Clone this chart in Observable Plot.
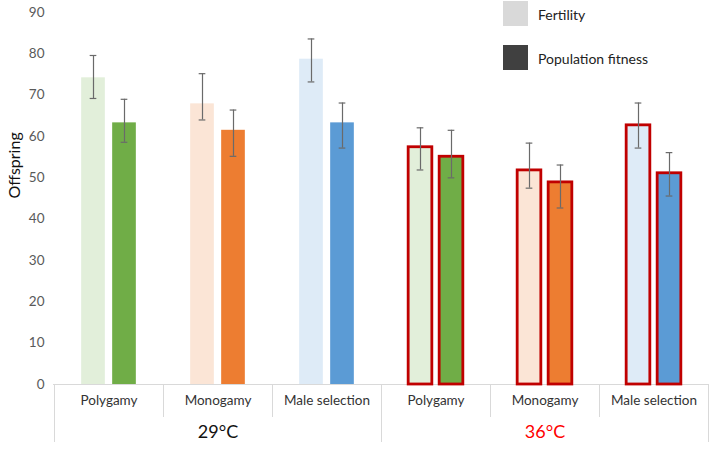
<!DOCTYPE html>
<html>
<head>
<meta charset="utf-8">
<script src="https://cdn.jsdelivr.net/npm/d3@7"></script>
<script src="https://cdn.jsdelivr.net/npm/@observablehq/plot@0.6"></script>
<style>
  body { margin: 0; background: #fff; font-family: Lato, "Open Sans", sans-serif; }
  #wrap { position: relative; width: 709px; height: 450px; }
  .legend { position: absolute; left: 503px; font-size: 14px; color: #222; }
  .legend .sw { position: absolute; left: 0; width: 25px; height: 25px; }
  .legend .lb { position: absolute; left: 35px; white-space: nowrap; line-height: 25px; }
</style>
</head>
<body>
<div id="wrap"></div>
<script>
// ---- data ----
const temps = ["29°C", "36°C"];
const categories = ["Polygamy", "Monogamy", "Male selection"];
const fertility      = [74.2, 67.9, 78.7, 57.4, 51.8, 62.7];
const fertilityLow   = [69.2, 64.0, 73.2, 51.9, 47.5, 57.2];
const fertilityHigh  = [79.6, 75.2, 83.6, 62.1, 58.4, 68.1];
const fitness        = [63.3, 61.5, 63.3, 55.1, 48.9, 51.1];
const fitnessLow     = [58.6, 55.2, 57.2, 50.0, 42.7, 45.6];
const fitnessHigh    = [69.0, 66.4, 68.1, 61.5, 53.1, 56.1];
const lightColors = ["#e2efda", "#fbe5d6", "#deebf7"];
const darkColors  = ["#70ad47", "#ed7d31", "#5b9bd5"];
const yTicks = [0, 10, 20, 30, 40, 50, 60, 70, 80, 90];
const seriesNames = ["Fertility", "Population fitness"];

const rows = [];
temps.forEach((t, ti) => categories.forEach((c, ci) => {
  const i = ti * 3 + ci;
  rows.push({
    key: t + "|" + c, temp: t, cat: c,
    fertility: fertility[i], fLow: fertilityLow[i], fHigh: fertilityHigh[i],
    fitness: fitness[i], pLow: fitnessLow[i], pHigh: fitnessHigh[i],
    light: lightColors[ci], dark: darkColors[ci],
    outline: ti === 1 ? "#c00000" : "none"
  });
}));
const keys = rows.map(d => d.key);

const W = 709, H = 450, ML = 53, MB = 66, MT = 12;
const band = (W - ML) / keys.length;
const barW = 24, off = 15.5, capW = 7;
const barInset = (band - barW) / 2;
const capInset = (band - capW) / 2;
const errColor = "#6a6a6a";

const chart = Plot.plot({
  width: W, height: H,
  marginLeft: ML, marginRight: 0, marginTop: MT, marginBottom: MB,
  style: { fontFamily: "Lato, 'Open Sans', sans-serif", background: "#fff", overflow: "visible" },
  x: { type: "band", domain: keys, padding: 0, axis: null },
  y: { domain: [0, 90], axis: null },
  color: { type: "identity" },
  marks: [
    Plot.ruleY([0], { stroke: "#d9d9d9", strokeWidth: 1 }),
    // Fertility bars
    Plot.barY(rows, {
      x: "key", y: "fertility", fill: "light", stroke: "outline", strokeWidth: 2.8,
      insetLeft: barInset, insetRight: barInset, dx: -off
    }),
    // Population fitness bars
    Plot.barY(rows, {
      x: "key", y: "fitness", fill: "dark", stroke: "outline", strokeWidth: 2.8,
      insetLeft: barInset, insetRight: barInset, dx: off
    }),
    // error bars
    Plot.ruleX(rows, { x: "key", y1: "fLow", y2: "fHigh", dx: -off, stroke: errColor, strokeWidth: 1.2 }),
    Plot.tickY(rows, { x: "key", y: "fLow", dx: -off, insetLeft: capInset, insetRight: capInset, stroke: errColor, strokeWidth: 1.2 }),
    Plot.tickY(rows, { x: "key", y: "fHigh", dx: -off, insetLeft: capInset, insetRight: capInset, stroke: errColor, strokeWidth: 1.2 }),
    Plot.ruleX(rows, { x: "key", y1: "pLow", y2: "pHigh", dx: off, stroke: errColor, strokeWidth: 1.2 }),
    Plot.tickY(rows, { x: "key", y: "pLow", dx: off, insetLeft: capInset, insetRight: capInset, stroke: errColor, strokeWidth: 1.2 }),
    Plot.tickY(rows, { x: "key", y: "pHigh", dx: off, insetLeft: capInset, insetRight: capInset, stroke: errColor, strokeWidth: 1.2 }),
    // y axis
    Plot.axisY(yTicks, { tickSize: 0, tickPadding: 9, fontSize: 13.5, fill: "#595959", label: null, tickFormat: d => d }),
    Plot.text(["Offspring"], { frameAnchor: "left", text: d => d, rotate: -90, dx: -39, fontSize: 16, fill: "#111" }),
    // category labels
    Plot.text(rows, { x: "key", text: "cat", frameAnchor: "bottom", dy: 20, fontSize: 13.5, fill: "#333" }),
    // group labels (centred on the middle category of each group)
    Plot.text(temps, { x: t => t + "|" + categories[1], text: d => d, frameAnchor: "bottom", dy: 53, fontSize: 18,
      fill: t => t === "36°C" ? "#ff0000" : "#111" })
  ]
});

document.getElementById("wrap").appendChild(chart);

// category / group separators of the table-like axis, from the x scale
let xs = chart.scale("x");
if (typeof xs.apply !== "function") xs = Plot.scale({ x: xs });
const svg = d3.select(chart.tagName.toLowerCase() === "svg" ? chart : chart.querySelector("svg"));
const y0 = H - MB;
const seps = keys.map((k, i) => ({ x: xs.apply(k), group: i % 3 === 0 }));
seps.push({ x: xs.apply(keys[keys.length - 1]) + xs.bandwidth, group: true });
svg.append("g").selectAll("line").data(seps).join("line")
  .attr("x1", d => d.x + 0.5).attr("x2", d => d.x + 0.5)
  .attr("y1", y0).attr("y2", d => d.group ? 442 : 417)
  .attr("stroke", "#d9d9d9").attr("stroke-width", 1);

// legend
const legend = document.createElement("div");
legend.className = "legend";
legend.style.top = "1px";
const legendColors = ["#d9d9d9", "#404040"];
seriesNames.forEach((name, i) => {
  const top = i * 44;
  const sw = document.createElement("div");
  sw.className = "sw"; sw.style.top = top + "px"; sw.style.background = legendColors[i];
  const lb = document.createElement("div");
  lb.className = "lb"; lb.style.top = (top + 1) + "px"; lb.textContent = name;
  legend.appendChild(sw); legend.appendChild(lb);
});
document.getElementById("wrap").appendChild(legend);
</script>
</body>
</html>
